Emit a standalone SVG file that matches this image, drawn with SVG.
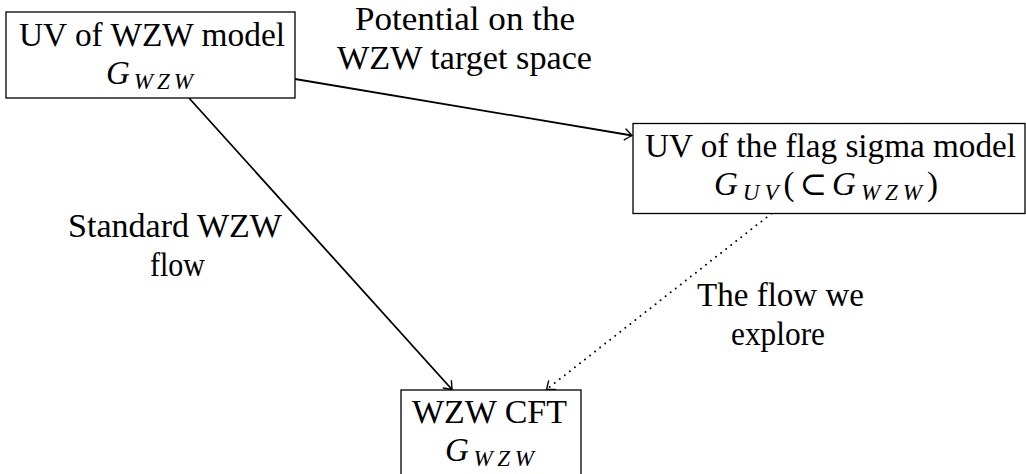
<svg xmlns="http://www.w3.org/2000/svg" width="1026" height="474" viewBox="0 0 1026 474">
  <style>
    .box { fill: #ffffff; stroke: #000000; stroke-width: 1.3; }
    .t { font-family: "Liberation Serif", "DejaVu Serif", serif; font-size: 33px; fill: #000000; }
    .m { font-family: "Liberation Serif", "DejaVu Serif", serif; font-size: 33px; font-style: italic; fill: #000000; }
    .sub { font-size: 23px; }
    .up { font-style: normal; }
    .edge { fill: none; stroke: #000000; stroke-width: 1.8; }
    .dot { stroke-dasharray: 0 6.4; stroke-linecap: round; stroke-width: 2; }
  </style>
  <defs>
    <marker id="to" markerWidth="14" markerHeight="14" refX="0" refY="0" viewBox="-9 -7 11 14" orient="auto" markerUnits="userSpaceOnUse">
      <path d="M -7 -5.5 Q -1.5 -1.2 0 0 Q -1.5 1.2 -7 5.5" fill="none" stroke="#000" stroke-width="1.4" stroke-linecap="round"/>
    </marker>
  </defs>

  <g id="connectors">
    <line class="edge" x1="295" y1="79" x2="632" y2="135.5" marker-end="url(#to)"/>
    <line class="edge" x1="189" y1="98" x2="452" y2="389.5" marker-end="url(#to)"/>
    <line class="edge dot" x1="771.5" y1="213.5" x2="546.5" y2="389.5" marker-end="url(#to)"/>
    <text class="t" x="465" y="30" text-anchor="middle" textLength="220" lengthAdjust="spacingAndGlyphs">Potential on the</text>
    <text class="t" x="464.5" y="68.5" text-anchor="middle" textLength="255" lengthAdjust="spacingAndGlyphs">WZW target space</text>
    <text class="t" x="175" y="237" text-anchor="middle" textLength="214" lengthAdjust="spacingAndGlyphs">Standard WZW</text>
    <text class="t" x="177.5" y="275.5" text-anchor="middle" textLength="55" lengthAdjust="spacingAndGlyphs">flow</text>
    <text class="t" x="780.5" y="306" text-anchor="middle" textLength="167" lengthAdjust="spacingAndGlyphs">The flow we</text>
    <text class="t" x="778" y="344.5" text-anchor="middle" textLength="94" lengthAdjust="spacingAndGlyphs">explore</text>
  </g>

  <g id="uv-wzw">
    <rect class="box" x="6" y="12" width="289" height="86"/>
    <text class="t" x="152" y="46" text-anchor="middle" textLength="266" lengthAdjust="spacingAndGlyphs">UV of WZW model</text>
    <text class="m" x="106" y="84" textLength="87" lengthAdjust="spacing">G<tspan class="sub" dy="5">WZW</tspan></text>
  </g>

  <g id="uv-flag">
    <rect class="box" x="633" y="123.5" width="392" height="90"/>
    <text class="t" x="830.5" y="157" text-anchor="middle" textLength="371" lengthAdjust="spacingAndGlyphs">UV of the flag sigma model</text>
    <text class="m" x="714" y="195" textLength="224" lengthAdjust="spacing">G<tspan class="sub" dy="5">UV</tspan><tspan class="up" dy="-5">(⊂</tspan>G<tspan class="sub" dy="5">WZW</tspan><tspan class="up" dy="-5">)</tspan></text>
  </g>

  <g id="wzw-cft">
    <rect class="box" x="401" y="390" width="180" height="100"/>
    <text class="t" x="489.5" y="423" text-anchor="middle" textLength="155" lengthAdjust="spacingAndGlyphs">WZW CFT</text>
    <text class="m" x="445" y="461" textLength="89" lengthAdjust="spacing">G<tspan class="sub" dy="5">WZW</tspan></text>
  </g>
</svg>
